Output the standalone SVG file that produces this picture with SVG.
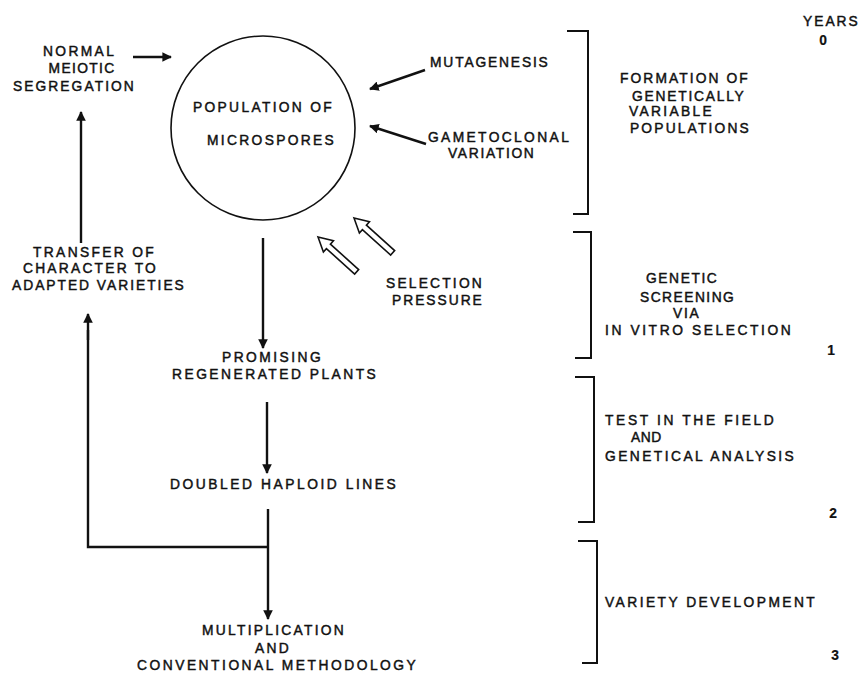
<svg xmlns="http://www.w3.org/2000/svg" width="863" height="675" viewBox="0 0 863 675">
<defs>
<marker id="ah" viewBox="0 0 10 10" refX="9" refY="5" markerWidth="4" markerHeight="4" orient="auto" markerUnits="strokeWidth">
<path d="M0,0 L10,5 L0,10 Z" fill="#111"/>
</marker>
<path id="hollow" d="M0,0 L14,-7.5 L14,-3 L52,-3 L52,3 L14,3 L14,7.5 Z"/>
</defs>
<style>
text{font-family:"Liberation Sans",Arial,sans-serif;font-size:13.8px;fill:#111;stroke:#111;stroke-width:0.45px;letter-spacing:1.2px}
.m{text-anchor:middle}
.d{font-weight:bold;letter-spacing:0;stroke-width:0.2px}
.ln{fill:none;stroke:#111;stroke-width:2.4}
.ar{fill:none;stroke:#111;stroke-width:2.4;marker-end:url(#ah)}
.br{fill:none;stroke:#111;stroke-width:2}
.ho{fill:#fff;stroke:#111;stroke-width:1.6;stroke-linejoin:miter}
</style>
<rect width="863" height="675" fill="#fff"/>

<g id="population">
<circle cx="263" cy="128" r="92" fill="none" stroke="#111" stroke-width="1.6"/>
<text x="193" y="112" textLength="140">POPULATION OF</text>
<text x="207" y="145" textLength="128">MICROSPORES</text>
</g>

<g id="normal-meiotic">
<text class="m" x="79" y="56" textLength="72">NORMAL</text>
<text class="m" x="82" y="73" textLength="67">MEIOTIC</text>
<text class="m" x="74" y="91" textLength="122">SEGREGATION</text>
</g>

<g id="mutagenesis">
<text x="430" y="67" textLength="119">MUTAGENESIS</text>
</g>

<g id="gametoclonal">
<text x="428" y="142" textLength="142">GAMETOCLONAL</text>
<text x="448" y="158" textLength="87">VARIATION</text>
</g>

<g id="selection-pressure">
<text x="386" y="288" textLength="97">SELECTION</text>
<text x="392" y="305" textLength="91">PRESSURE</text>
</g>

<g id="transfer">
<text x="33" y="257" textLength="122">TRANSFER OF</text>
<text x="23" y="273" textLength="134">CHARACTER TO</text>
<text x="12" y="290" textLength="173">ADAPTED VARIETIES</text>
</g>

<g id="promising">
<text x="222" y="362" textLength="100">PROMISING</text>
<text x="172" y="379" textLength="205">REGENERATED PLANTS</text>
</g>

<g id="doubled">
<text x="170" y="489" textLength="227">DOUBLED HAPLOID LINES</text>
</g>

<g id="multiplication">
<text x="202" y="635" textLength="143">MULTIPLICATION</text>
<text x="255" y="653" textLength="35">AND</text>
<text x="137" y="670" textLength="280">CONVENTIONAL METHODOLOGY</text>
</g>

<g id="connectors">
<line class="ar" x1="133" y1="57" x2="171" y2="57"/>
<line class="ar" x1="81" y1="243" x2="81" y2="112"/>
<line class="ar" x1="425" y1="70" x2="370" y2="89"/>
<line class="ar" x1="426" y1="144" x2="370" y2="126"/>
<line class="ar" x1="263" y1="238" x2="263" y2="348"/>
<line class="ar" x1="267" y1="402" x2="267" y2="473"/>
<line class="ar" x1="268" y1="509" x2="268" y2="619"/>
<polyline class="ln" points="268,547 88,547 88,330"/>
<line class="ar" x1="88" y1="340" x2="88" y2="314"/>
<use href="#hollow" class="ho" transform="translate(318,237) rotate(42)"/>
<use href="#hollow" class="ho" transform="translate(354,218) rotate(42)"/>
</g>

<g id="stage-formation">
<polyline class="br" points="567,31 588,31 588,214 573,214"/>
<text x="620" y="83" textLength="129">FORMATION OF</text>
<text x="632" y="101" textLength="113">GENETICALLY</text>
<text x="629" y="116" textLength="84">VARIABLE</text>
<text x="630" y="133" textLength="120">POPULATIONS</text>
</g>

<g id="stage-screening">
<polyline class="br" points="573,232 591,232 591,358 575,358"/>
<text x="646" y="283" textLength="72">GENETIC</text>
<text x="640" y="302" textLength="95">SCREENING</text>
<text x="673" y="318" textLength="27">VIA</text>
<text x="605" y="335" textLength="187">IN VITRO SELECTION</text>
</g>

<g id="stage-field">
<polyline class="br" points="575,377 594,377 594,522 578,522"/>
<text x="605" y="425" textLength="170">TEST IN THE FIELD</text>
<text x="631" y="442" style="letter-spacing:0.5px">AND</text>
<text x="605" y="461" textLength="190">GENETICAL ANALYSIS</text>
</g>

<g id="stage-variety">
<polyline class="br" points="578,541 597,541 597,663 582,663"/>
<text x="605" y="607" textLength="211">VARIETY DEVELOPMENT</text>
</g>

<g id="years">
<text x="803" y="26" textLength="56">YEARS</text>
<text class="m d" x="823" y="45">0</text>
<text class="m d" x="831" y="355">1</text>
<text class="m d" x="833" y="518">2</text>
<text class="m d" x="835" y="660">3</text>
</g>
</svg>
